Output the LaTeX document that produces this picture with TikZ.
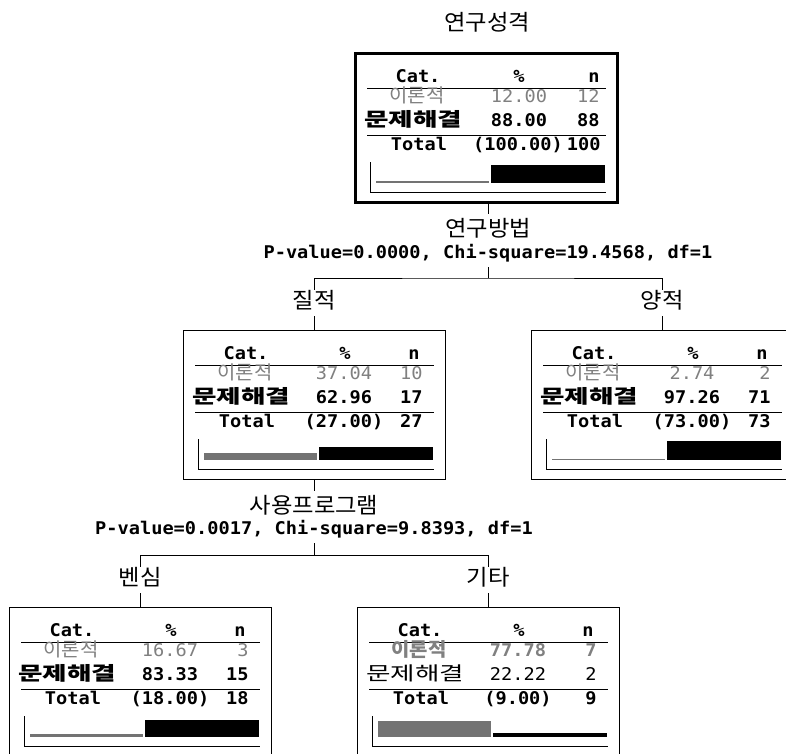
\documentclass[tikz,border=0pt]{standalone}
\usepackage{fontspec}
\usepackage{graphicx}
\newfontfamily\kofont{Noto Sans CJK KR}
\newfontfamily\tabfont[FakeStretch=1.065]{DejaVu Sans Mono}
\newcommand{\wide}[2][1.4]{\scalebox{#1}[1]{#2}}
\tikzset{
  treebox/.style={draw, line width=1pt, minimum width=262pt, minimum height=149pt, inner sep=0pt},
  rootbox/.style={treebox, line width=3pt},
  varname/.style={inner sep=0pt, font=\kofont\fontsize{22}{24}\selectfont},
  stats/.style={inner sep=0pt, anchor=base, font=\tabfont\bfseries\fontsize{17.5}{19}\selectfont},
  num/.style={inner sep=0pt, font=\tabfont\fontsize{17.5}{19}\selectfont},
  numb/.style={inner sep=0pt, font=\tabfont\bfseries\fontsize{17.5}{19}\selectfont},
  cat/.style={inner sep=0pt, font=\kofont\fontsize{19}{21}\selectfont},
  catb/.style={inner sep=0pt, font=\kofont\bfseries\fontsize{19}{21}\selectfont},
  hatch/.style={text=black!50},
  minorbar/.style={fill=black!55},
  majorbar/.style={fill=black},
}
\begin{document}
\begin{tikzpicture}[x=1pt,y=-1pt,line width=1pt]
\useasboundingbox (0,0) rectangle (786,753);
\clip (0,0) rectangle (786,753);

\node[varname] (title) at (487,22) {\wide[1.06]{연구성격}};

\begin{scope}[shift={(486,53)}]
\node[rootbox] (root) at (0,74.5) {};
\node[numb, anchor=base] (root-hc) at (-68,29) {Cat.};
\node[numb, anchor=base] (root-hp) at (33,29) {\%};
\node[numb, anchor=base east] (root-hn) at (114,29) {n};
\draw (-119,35) -- (120,35);
\node[cat, hatch, anchor=base] (root-c1) at (-69,49) {\wide[1.05]{이론적}};
\node[num, hatch, anchor=base] (root-p1) at (33,49) {12.00};
\node[num, hatch, anchor=base east] (root-n1) at (114,49) {12};
\node[catb, anchor=base] (root-c2) at (-73,73) {\wide{문제해결}};
\node[numb, anchor=base] (root-p2) at (33,73) {88.00};
\node[numb, anchor=base east] (root-n2) at (114,73) {88};
\draw (-119,82) -- (120,82);
\node[numb, anchor=base] (root-tc) at (-67,97) {Total};
\node[numb, anchor=base] (root-tp) at (32,97) {(100.00)};
\node[numb, anchor=base east] (root-tn) at (115,97) {100};
\fill[minorbar] (-110,130) rectangle (3,127.6);
\fill[majorbar] (5,130) rectangle (119,112.4);
\draw (-116,109) -- (-116,139) -- (120,139);
\end{scope}

\node[varname] (split1) at (488,228) {\wide[1.06]{연구방법}};
\node[stats] (pv1) at (488,258) {P-value=0.0000, Chi-square=19.4568, df=1};
\coordinate (j1) at (488,278);
\node[varname] (q1) at (314,300) {\wide[1.06]{질적}};
\node[varname] (q2) at (662,300) {\wide[1.06]{양적}};
\draw[shorten >=4pt] (root.south -| split1) -- (split1);
\draw[shorten <=5pt] (pv1) -- (j1);
\draw (q1.north) |- (j1) -| (q2.north);

\begin{scope}[shift={(314,330)}]
\node[treebox] (left) at (0,74.5) {};
\node[numb, anchor=base] (left-hc) at (-68,29) {Cat.};
\node[numb, anchor=base] (left-hp) at (31,29) {\%};
\node[numb, anchor=base east] (left-hn) at (106,29) {n};
\draw (-119,35) -- (120,35);
\node[cat, hatch, anchor=base] (left-c1) at (-69,49) {\wide[1.05]{이론적}};
\node[num, hatch, anchor=base] (left-p1) at (30,49) {37.04};
\node[num, hatch, anchor=base east] (left-n1) at (109,49) {10};
\node[catb, anchor=base] (left-c2) at (-73,73) {\wide{문제해결}};
\node[numb, anchor=base] (left-p2) at (30,73) {62.96};
\node[numb, anchor=base east] (left-n2) at (109,73) {17};
\draw (-119,82) -- (120,82);
\node[numb, anchor=base] (left-tc) at (-67,97) {Total};
\node[numb, anchor=base] (left-tp) at (30,97) {(27.00)};
\node[numb, anchor=base east] (left-tn) at (109,97) {27};
\fill[minorbar] (-110,130) rectangle (3,122.6);
\fill[majorbar] (5,130) rectangle (119,117.4);
\draw (-116,109) -- (-116,139) -- (120,139);
\end{scope}

\begin{scope}[shift={(662,330)}]
\node[treebox] (right) at (0,74.5) {};
\node[numb, anchor=base] (right-hc) at (-68,29) {Cat.};
\node[numb, anchor=base] (right-hp) at (31,29) {\%};
\node[numb, anchor=base east] (right-hn) at (106,29) {n};
\draw (-119,35) -- (120,35);
\node[cat, hatch, anchor=base] (right-c1) at (-69,49) {\wide[1.05]{이론적}};
\node[num, hatch, anchor=base] (right-p1) at (30,49) {2.74};
\node[num, hatch, anchor=base east] (right-n1) at (109,49) {2};
\node[catb, anchor=base] (right-c2) at (-73,73) {\wide{문제해결}};
\node[numb, anchor=base] (right-p2) at (30,73) {97.26};
\node[numb, anchor=base east] (right-n2) at (109,73) {71};
\draw (-119,82) -- (120,82);
\node[numb, anchor=base] (right-tc) at (-67,97) {Total};
\node[numb, anchor=base] (right-tp) at (30,97) {(73.00)};
\node[numb, anchor=base east] (right-tn) at (109,97) {73};
\fill[minorbar] (-110,130) rectangle (3,129.45);
\fill[majorbar] (5,130) rectangle (119,110.55);
\draw (-116,109) -- (-116,139) -- (120,139);
\end{scope}

\draw[shorten <=6pt] (q1) -- (left);
\draw[shorten <=6pt] (q2) -- (right);

\node[varname] (split2) at (314,505) {\wide[1.06]{사용프로그램}};
\node[stats] (pv2) at (314,534) {P-value=0.0017, Chi-square=9.8393, df=1};
\coordinate (j2) at (314,555);
\node[varname] (p1) at (140,577) {\wide[1.06]{벤심}};
\node[varname] (p2) at (488,577) {\wide[1.06]{기타}};
\draw[shorten >=4pt] (left) -- (split2);
\draw[shorten <=5pt] (pv2) -- (j2);
\draw (p1.north) |- (j2) -| (p2.north);

\begin{scope}[shift={(140,607)}]
\node[treebox] (bleft) at (0,74.5) {};
\node[numb, anchor=base] (bleft-hc) at (-68,29) {Cat.};
\node[numb, anchor=base] (bleft-hp) at (31,29) {\%};
\node[numb, anchor=base east] (bleft-hn) at (106,29) {n};
\draw (-119,35) -- (120,35);
\node[cat, hatch, anchor=base] (bleft-c1) at (-69,49) {\wide[1.05]{이론적}};
\node[num, hatch, anchor=base] (bleft-p1) at (30,49) {16.67};
\node[num, hatch, anchor=base east] (bleft-n1) at (109,49) {3};
\node[catb, anchor=base] (bleft-c2) at (-73,73) {\wide{문제해결}};
\node[numb, anchor=base] (bleft-p2) at (30,73) {83.33};
\node[numb, anchor=base east] (bleft-n2) at (109,73) {15};
\draw (-119,82) -- (120,82);
\node[numb, anchor=base] (bleft-tc) at (-67,97) {Total};
\node[numb, anchor=base] (bleft-tp) at (30,97) {(18.00)};
\node[numb, anchor=base east] (bleft-tn) at (109,97) {18};
\fill[minorbar] (-110,130) rectangle (3,126.67);
\fill[majorbar] (5,130) rectangle (119,113.33);
\draw (-116,109) -- (-116,139) -- (120,139);
\end{scope}

\begin{scope}[shift={(488,607)}]
\node[treebox] (bright) at (0,74.5) {};
\node[numb, anchor=base] (bright-hc) at (-68,29) {Cat.};
\node[numb, anchor=base] (bright-hp) at (31,29) {\%};
\node[numb, anchor=base east] (bright-hn) at (106,29) {n};
\draw (-119,35) -- (120,35);
\node[catb, hatch, anchor=base] (bright-c1) at (-69,49) {\wide[1.05]{이론적}};
\node[numb, hatch, anchor=base] (bright-p1) at (30,49) {77.78};
\node[numb, hatch, anchor=base east] (bright-n1) at (109,49) {7};
\node[cat, anchor=base] (bright-c2) at (-73,73) {\wide{문제해결}};
\node[num, anchor=base] (bright-p2) at (30,73) {22.22};
\node[num, anchor=base east] (bright-n2) at (109,73) {2};
\draw (-119,82) -- (120,82);
\node[numb, anchor=base] (bright-tc) at (-67,97) {Total};
\node[numb, anchor=base] (bright-tp) at (30,97) {(9.00)};
\node[numb, anchor=base east] (bright-tn) at (109,97) {9};
\fill[minorbar] (-110,130) rectangle (3,114.44);
\fill[majorbar] (5,130) rectangle (119,125.56);
\draw (-116,109) -- (-116,139) -- (120,139);
\end{scope}

\draw[shorten <=6pt] (p1) -- (bleft);
\draw[shorten <=6pt] (p2) -- (bright);
\end{tikzpicture}
\end{document}
